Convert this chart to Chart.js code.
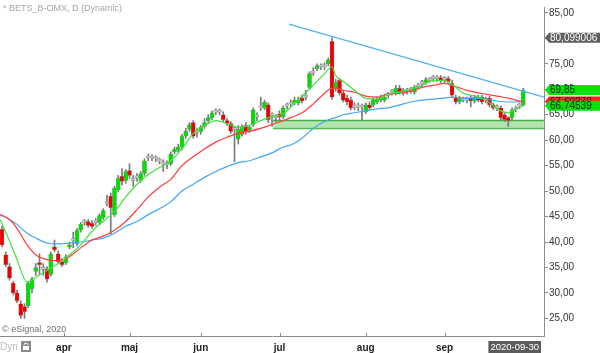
<!DOCTYPE html>
<html>
<head>
<meta charset="utf-8">
<title>BETS_B-OMX</title>
<script src="https://cdn.jsdelivr.net/npm/chart.js@4.4.1/dist/chart.umd.min.js"></script>
<style>
  html, body { margin: 0; padding: 0; background: #fff; }
  #wrap { width: 600px; height: 353px; }
</style>
</head>
<body>
<div id="wrap"><canvas id="chart" width="600" height="353"></canvas></div>
<script>
const FONT = '"Liberation Sans", Arial, sans-serif';

// x axis: trading day index, 0 = 2020-03-12, 139 = 2020-09-30
const monthLabels = ["apr", "maj", "jun", "jul", "aug", "sep"];
const monthStart = [16.5, 34, 53, 74, 97, 118];
const lastDate = "2020-09-30";

// daily candles
const open = [
  42.50, 37.50, 35.19, 31.92, 30.00, 27.88, 27.30, 27.50, 30.77, 34.23,
  35.96, 34.70, 34.61, 33.65, 39.03, 37.69, 36.15, 35.96, 39.03, 40.40,
  39.61, 42.30, 43.90, 44.03, 43.65, 43.80, 43.84, 44.80, 47.70, 49.03,
  45.38, 50.19, 52.88, 52.11, 54.03, 52.10, 52.70, 52.11, 53.46, 56.50,
  56.60, 56.30, 56.00, 55.40, 55.20, 55.38, 57.69, 58.07, 58.65, 60.77,
  62.11, 63.46, 61.50, 61.73, 62.69, 63.84, 64.42, 65.60, 65.50, 65.00,
  63.84, 63.27, 62.10, 60.19, 61.15, 62.88, 61.92, 63.07, 64.60, 66.30,
  66.34, 66.92, 64.80, 64.40, 65.19, 64.61, 66.70, 67.10, 67.30, 67.30,
  68.27, 68.40, 70.38, 73.20, 74.03, 74.40, 74.50, 75.00, 79.42, 70.19,
  71.73, 69.23, 68.27, 67.88, 66.50, 66.60, 66.50, 65.57, 66.92, 66.92,
  67.50, 67.88, 67.88, 68.80, 69.40, 69.23, 70.19, 69.23, 69.60, 69.80,
  69.42, 70.50, 71.10, 71.34, 71.70, 72.10, 72.20, 72.30, 71.90, 72.11,
  71.15, 68.46, 67.50, 67.90, 67.90, 68.27, 67.69, 68.46, 68.46, 67.90,
  68.27, 66.92, 66.30, 66.34, 65.00, 64.42, 64.42, 66.10, 66.70, 66.92
];
const high = [
  43.07, 38.07, 35.77, 32.30, 30.57, 28.46, 27.88, 32.30, 33.07, 35.77,
  37.69, 35.77, 35.19, 38.07, 40.38, 38.26, 36.73, 37.50, 40.00, 41.92,
  42.69, 43.84, 44.42, 44.42, 44.23, 44.61, 45.57, 46.54, 49.23, 49.61,
  50.96, 53.07, 54.42, 54.23, 55.38, 53.07, 53.46, 53.84, 56.34, 57.30,
  57.11, 56.92, 56.53, 56.15, 55.96, 57.69, 58.65, 59.23, 61.15, 62.30,
  63.46, 63.84, 62.30, 62.88, 64.23, 65.00, 65.77, 66.15, 66.15, 65.57,
  64.23, 63.65, 62.69, 62.88, 63.07, 63.46, 62.88, 66.34, 65.38, 68.46,
  67.88, 67.30, 65.38, 65.00, 65.77, 66.73, 67.30, 67.88, 68.46, 68.46,
  68.84, 69.80, 73.46, 74.23, 75.00, 75.00, 75.19, 76.15, 80.10, 71.92,
  72.11, 69.80, 68.84, 68.46, 67.30, 67.30, 67.11, 67.30, 67.50, 68.27,
  68.46, 68.84, 69.03, 69.42, 69.99, 70.77, 70.77, 70.19, 70.19, 70.38,
  70.77, 71.15, 71.73, 72.30, 72.30, 72.69, 72.69, 72.69, 72.50, 72.50,
  71.73, 68.84, 68.65, 68.46, 68.46, 68.65, 68.84, 68.84, 68.84, 68.46,
  68.65, 67.30, 66.92, 66.73, 65.38, 64.61, 66.34, 66.73, 67.30, 70.19
];
const low = [
  39.03, 35.19, 32.50, 29.61, 28.07, 25.00, 25.00, 27.11, 30.00, 33.46,
  33.65, 33.46, 32.11, 33.27, 38.07, 35.77, 35.19, 35.57, 38.65, 38.84,
  39.23, 41.92, 43.27, 42.88, 42.69, 43.27, 43.46, 44.42, 47.11, 41.53,
  45.00, 49.80, 51.15, 51.53, 52.50, 50.96, 51.92, 51.73, 53.07, 55.96,
  55.96, 55.77, 55.38, 53.84, 54.42, 55.00, 57.30, 57.69, 58.07, 60.38,
  61.73, 60.38, 60.57, 61.15, 62.30, 63.46, 64.03, 65.00, 65.00, 63.65,
  62.88, 61.34, 55.77, 59.23, 60.77, 61.15, 61.53, 62.69, 63.84, 65.77,
  65.96, 63.46, 62.69, 63.65, 64.03, 64.23, 66.15, 66.53, 66.92, 66.92,
  67.30, 67.88, 69.99, 72.69, 73.65, 73.84, 73.84, 74.61, 68.07, 69.61,
  68.84, 67.50, 66.92, 65.96, 65.96, 65.77, 64.03, 65.19, 65.96, 66.53,
  67.11, 67.50, 67.50, 68.27, 68.84, 68.84, 69.03, 68.84, 69.03, 69.23,
  69.03, 69.99, 70.57, 70.96, 71.34, 71.53, 71.53, 71.34, 71.34, 71.15,
  68.46, 67.11, 67.11, 67.50, 67.30, 66.53, 67.30, 67.50, 67.11, 67.30,
  66.53, 65.96, 65.77, 64.03, 63.65, 62.69, 64.03, 65.57, 66.15, 66.73
];
const close = [
  39.42, 35.57, 32.88, 30.00, 28.46, 25.57, 26.34, 31.92, 32.69, 35.00,
  35.57, 34.61, 32.69, 37.69, 38.46, 36.15, 35.57, 37.11, 39.42, 40.30,
  42.30, 43.46, 43.80, 43.27, 43.07, 43.90, 45.19, 46.15, 47.60, 46.73,
  50.57, 52.50, 51.92, 53.84, 53.07, 52.20, 52.60, 53.46, 55.96, 56.60,
  56.50, 56.40, 55.90, 55.30, 55.30, 57.30, 58.27, 58.65, 60.77, 61.73,
  63.07, 60.77, 61.60, 62.50, 63.46, 64.42, 65.38, 65.50, 65.60, 64.03,
  63.27, 61.73, 62.20, 62.11, 62.69, 61.73, 62.50, 65.96, 64.70, 66.40,
  67.50, 64.03, 64.90, 64.50, 64.61, 66.34, 66.80, 67.20, 67.88, 67.88,
  67.69, 68.50, 73.07, 73.30, 74.61, 74.50, 74.40, 75.77, 68.46, 71.34,
  69.23, 67.88, 67.50, 66.34, 66.60, 66.50, 66.60, 66.92, 66.34, 67.88,
  68.07, 68.46, 68.46, 68.90, 69.50, 70.19, 69.42, 69.80, 69.70, 69.90,
  70.38, 70.60, 71.20, 71.92, 71.80, 72.20, 72.10, 71.73, 72.00, 71.53,
  68.84, 67.50, 68.27, 68.00, 67.80, 67.69, 68.46, 67.88, 67.50, 67.80,
  66.92, 66.34, 66.40, 64.42, 64.03, 63.84, 65.96, 66.20, 66.80, 69.85
];

// moving averages, read at these day positions
const maDay = [
  -0.5, 2, 4, 6.7, 9, 12, 15, 18, 21, 24, 27, 30, 33, 36, 39, 42, 45,
  48, 51, 54, 57, 60, 63, 66, 69, 72, 75, 77, 80, 83, 86, 88, 89, 91,
  94, 97, 100, 103, 106, 109, 112, 115, 118, 120, 123, 126, 129, 132, 135, 137, 139
];
const maFast = [
  44.42, 40.19, 36.54, 32.12, 33.08, 34.42, 35.77, 37.50, 39.42, 42.12, 44.04, 45.96, 48.85,
  51.35, 53.27, 54.62, 55.96, 58.27, 61.35, 62.88, 63.85, 63.27, 62.50, 62.88, 63.85, 64.62,
  65.19, 66.54, 68.65, 70.77, 73.08, 74.42, 72.69, 71.54, 69.81, 68.27, 68.08, 69.04, 69.42,
  70.00, 70.77, 71.73, 71.73, 70.96, 69.23, 68.65, 67.88, 66.15, 65.38, 66.15, 66.75
];
const maMid = [
  45.38, 44.42, 42.69, 39.42, 37.50, 36.54, 36.35, 37.12, 38.85, 40.38, 41.15, 42.31, 44.04,
  46.35, 48.85, 50.77, 52.31, 55.00, 56.73, 58.27, 59.62, 60.58, 61.35, 61.73, 62.31, 63.08,
  63.85, 64.42, 65.38, 67.12, 69.23, 70.19, 70.19, 69.81, 69.42, 68.65, 68.46, 69.04, 69.23,
  69.62, 70.38, 70.77, 71.15, 70.77, 70.00, 69.42, 69.04, 68.65, 68.27, 67.88, 67.50
];
const maSlow = [
  45.38, 44.42, 43.46, 41.73, 40.77, 39.81, 39.62, 39.81, 40.00, 40.38, 40.77, 41.73, 43.08,
  44.04, 45.38, 46.54, 47.88, 50.00, 51.35, 52.69, 53.85, 54.81, 55.58, 55.96, 56.73, 57.50,
  58.65, 59.04, 60.38, 62.31, 63.65, 64.23, 64.42, 65.00, 65.38, 65.77, 66.15, 66.35, 66.92,
  67.50, 67.88, 68.08, 68.27, 68.46, 68.27, 68.27, 68.08, 67.69, 67.50, 67.50, 67.69
];

// drawn objects
const trendDay = [76.5, 144.5];
const trendValue = [82.79, 68.46];
const zoneDay = [72.3, 144.5];
const zoneTop = [63.85, 63.85];
const zoneBottom = [62.3, 62.3];

const yTicks = [25, 30, 35, 40, 45, 50, 55, 60, 65, 70, 75, 80, 85];

// price tags on the right axis (drawn in this order)
const tagValues = [67.6027, 66.74539, 69.85, 80.099006];
const tagDecimals = [5, 5, 2, 6];
const tagColors = ["#ff1f1f", "#00e400", "#00e400", "#5f5f5f"];
const tagText = ["#222", "#1a1a1a", "#1a1a1a", "#fff"];

const days = close.map((v, i) => i);
const pts = (xs, ys) => xs.map((x, i) => ({ x: x, y: ys[i] }));
const comma = (v, n) => v.toFixed(n).replace(".", ",");

function candleColor(i) {
  const d = close[i] - open[i];
  if (d > 0.15) return "#00e000";
  if (d < -0.15) return "#ee0000";
  return "#c6c6c6";
}

const decorations = {
  id: "decorations",
  afterDraw(chart) {
    const { ctx, chartArea } = chart;
    const xs = chart.scales.x, ys = chart.scales.y;
    ctx.save();
    ctx.textBaseline = "middle";
    ctx.textAlign = "left";

    ctx.font = "9px " + FONT;
    ctx.fillStyle = "#a6a6a6";
    ctx.fillText("* BETS_B-OMX, D (Dynamic)", 3, 9);

    ctx.fillStyle = "#707070";
    ctx.fillText("\u00a9 eSignal, 2020", 2, 330);

    // small month marks above the bottom frame
    ctx.strokeStyle = "#8c8c8c";
    ctx.lineWidth = 1;
    monthStart.forEach(d => {
      const px = Math.round(xs.getPixelForValue(d)) + 0.5;
      ctx.beginPath();
      ctx.moveTo(px, chartArea.bottom - 3);
      ctx.lineTo(px, chartArea.bottom);
      ctx.stroke();
    });

    // "Dyn" and lock button
    ctx.font = "10px " + FONT;
    ctx.fillStyle = "#bdbdbd";
    ctx.fillText("Dyn", 0, 347);
    ctx.fillStyle = "#8a8a8a";
    ctx.fillRect(21, 341, 10, 11);
    ctx.strokeStyle = "#fff";
    ctx.beginPath();
    ctx.arc(26, 345, 2, Math.PI, 0);
    ctx.stroke();
    ctx.fillStyle = "#fff";
    ctx.fillRect(23, 346, 6, 4);

    // last date box
    ctx.font = "9.5px " + FONT;
    const w = ctx.measureText(lastDate).width + 4;
    const dx = Math.min(xs.getPixelForValue(days[days.length - 1]) - w / 2, chartArea.right - 3 - w);
    ctx.fillStyle = "#5c5c5c";
    ctx.fillRect(dx, 341, w, 12);
    ctx.fillStyle = "#fff";
    ctx.fillText(lastDate, dx + 2, 347.5);

    // price tags
    ctx.font = "10px " + FONT;
    tagValues.forEach((v, i) => {
      const py = ys.getPixelForValue(v);
      const x0 = chartArea.right + 1, x1 = x0 + 4, x2 = 600, h = 10;
      ctx.fillStyle = tagColors[i];
      ctx.beginPath();
      ctx.moveTo(x0, py);
      ctx.lineTo(x1, py - h / 2);
      ctx.lineTo(x2, py - h / 2);
      ctx.lineTo(x2, py + h / 2);
      ctx.lineTo(x1, py + h / 2);
      ctx.closePath();
      ctx.fill();
      ctx.fillStyle = tagText[i];
      ctx.fillText(comma(v, tagDecimals[i]), x1 + 1, py + 0.5);
    });
    ctx.restore();
  }
};

new Chart(document.getElementById("chart"), {
  type: "bar",
  data: {
    datasets: [
      {
        type: "line",
        data: pts(maDay, maFast),
        borderColor: "#3fe23f",
        borderWidth: 1.2,
        pointRadius: 0,
        cubicInterpolationMode: "monotone",
        order: 0,
      },
      {
        type: "line",
        data: pts(maDay, maMid),
        borderColor: "#ff3d3d",
        borderWidth: 1.2,
        pointRadius: 0,
        cubicInterpolationMode: "monotone",
        order: 0,
      },
      {
        type: "line",
        data: pts(maDay, maSlow),
        borderColor: "#3ea8f6",
        borderWidth: 1.2,
        pointRadius: 0,
        cubicInterpolationMode: "monotone",
        order: 0,
      },
      {
        type: "line",
        data: pts(trendDay, trendValue),
        borderColor: "#52b2f2",
        borderWidth: 1.2,
        pointRadius: 0,
        order: 0,
      },
      {
        type: "bar",
        data: days.map(i => ({ x: i, y: [low[i], high[i]] })),
        backgroundColor: "#7a7a7a",
        barThickness: 1,
        grouped: false,
        order: 3,
      },
      {
        type: "bar",
        data: days.map(i => ({ x: i, y: [open[i], close[i]] })),
        backgroundColor: days.map(candleColor),
        borderColor: "#8c8c8c",
        borderWidth: 0.5,
        borderSkipped: false,
        barThickness: 4,
        minBarLength: 2,
        grouped: false,
        order: 2,
      },
      {
        type: "line",
        data: pts(zoneDay, zoneTop),
        borderColor: "#46ad46",
        borderWidth: 1.5,
        pointRadius: 0,
        fill: "+1",
        backgroundColor: "rgba(130, 210, 120, 0.6)",
        order: 5,
      },
      {
        type: "line",
        data: pts(zoneDay, zoneBottom),
        borderColor: "#46ad46",
        borderWidth: 1.5,
        pointRadius: 0,
        fill: false,
        order: 5,
      },
    ],
  },
  options: {
    responsive: false,
    animation: false,
    layout: { padding: 0 },
    plugins: {
      legend: { display: false },
      tooltip: { enabled: false },
    },
    scales: {
      x: {
        type: "linear",
        min: -0.533,
        max: 144.53,
        offset: false,
        afterBuildTicks: s => { s.ticks = monthStart.map(v => ({ value: v })); },
        afterFit: s => { s.height = 17; },
        ticks: {
          callback: (v, i) => monthLabels[i],
          color: "#222",
          font: { family: FONT, size: 10, weight: "bold" },
          padding: 6,
          maxRotation: 0,
          autoSkip: false,
        },
        grid: { display: false, drawTicks: false },
        border: { display: true, color: "#8c8c8c" },
      },
      y: {
        position: "right",
        min: 21.54,
        max: 86.154,
        afterBuildTicks: s => { s.ticks = yTicks.map(v => ({ value: v })); },
        afterFit: s => { s.width = 56; },
        ticks: {
          callback: v => comma(v, 2),
          color: "#333",
          font: { family: FONT, size: 10 },
          padding: 1,
        },
        grid: { drawOnChartArea: false, drawTicks: true, tickLength: 4, color: "#8c8c8c" },
        border: { color: "#8c8c8c" },
      },
    },
  },
  plugins: [decorations],
});
</script>
</body>
</html>
